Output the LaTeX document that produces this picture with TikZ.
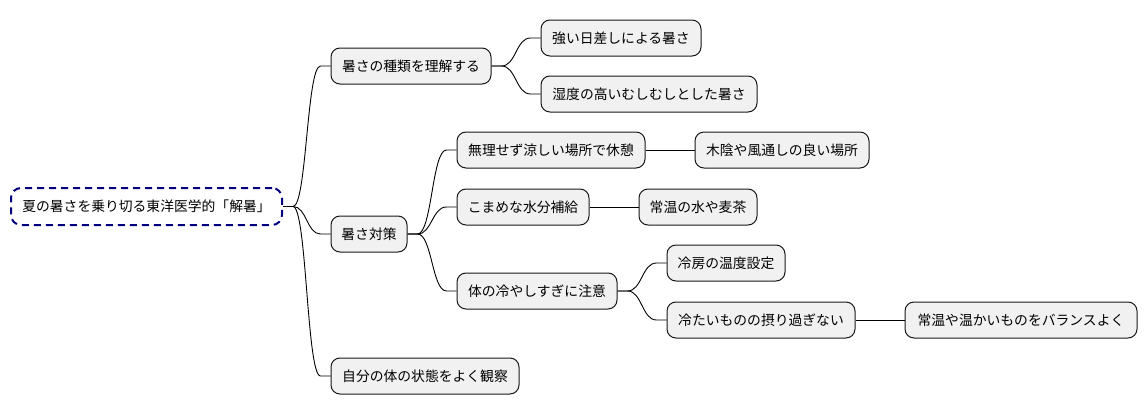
\documentclass[tikz,border=0pt]{standalone}
\usepackage{fontspec}
\setmainfont{Noto Sans CJK JP}
\usetikzlibrary{calc}
\definecolor{boxfill}{HTML}{F1F1F1}
\definecolor{boxline}{HTML}{181818}
\definecolor{rootline}{HTML}{000080}
\tikzset{
  box/.style={draw=boxline, fill=boxfill, line width=1pt, rounded corners=9pt,
    minimum height=36pt, inner sep=0pt, font=\fontsize{13.8pt}{16pt}\selectfont, text=black},
  rootbox/.style={draw=rootline, fill=white, line width=2pt, dash pattern=on 7pt off 5pt,
    rounded corners=10pt, minimum height=37pt, inner sep=0pt,
    font=\fontsize{13.8pt}{16pt}\selectfont, text=black},
  link/.style={draw=black, line width=0.9pt},
}
\begin{document}
\begin{tikzpicture}[x=1pt,y=-1pt]
\useasboundingbox (0,0) rectangle (1146,415);
\node[rootbox, minimum width=271pt] (root) at (146.5,206.5) {夏の暑さを乗り切る東洋医学的「解暑」};
\node[box, minimum width=160pt] (a) at (411,66) {暑さの種類を理解する};
\node[box, minimum width=160pt] (a1) at (621,38) {強い日差しによる暑さ};
\node[box, minimum width=216pt] (a2) at (649,94) {湿度の高いむしむしとした暑さ};
\node[box, minimum width=76pt] (b) at (369,234) {暑さ対策};
\node[box, minimum width=188pt] (b1) at (551,150) {無理せず涼しい場所で休憩};
\node[box, minimum width=174pt] (b11) at (782,150) {木陰や風通しの良い場所};
\node[box, minimum width=132pt] (b2) at (523,207) {こまめな水分補給};
\node[box, minimum width=118pt] (b21) at (698,207) {常温の水や麦茶};
\node[box, minimum width=160pt] (b3) at (537,291) {体の冷やしすぎに注意};
\node[box, minimum width=118pt] (b31) at (726,263) {冷房の温度設定};
\node[box, minimum width=188pt] (b32) at (761,320) {冷たいものの摂り過ぎない};
\node[box, minimum width=232pt] (b321) at (1021,320) {常温や温かいものをバランスよく};
\node[box, minimum width=188pt] (c) at (425,376) {自分の体の状態をよく観察};
\newcommand{\clink}[2]{%
  \coordinate (s) at ($(#1.east)+(10,0)$);
  \coordinate (e) at ($(#2.west)+(-10,0)$);
  \coordinate (m) at ($(s)!0.5!(e)$);
  \draw[link] (#1.east) -- (s) .. controls (m |- s) and (m |- e) .. (e) -- (#2.west);}
\clink{root}{a}
\clink{root}{b}
\clink{root}{c}
\clink{a}{a1}
\clink{a}{a2}
\clink{b}{b1}
\clink{b}{b2}
\clink{b}{b3}
\clink{b3}{b31}
\clink{b3}{b32}
\draw[link] (b1.east) -- (b11.west);
\draw[link] (b2.east) -- (b21.west);
\draw[link] (b32.east) -- (b321.west);
\end{tikzpicture}
\end{document}
